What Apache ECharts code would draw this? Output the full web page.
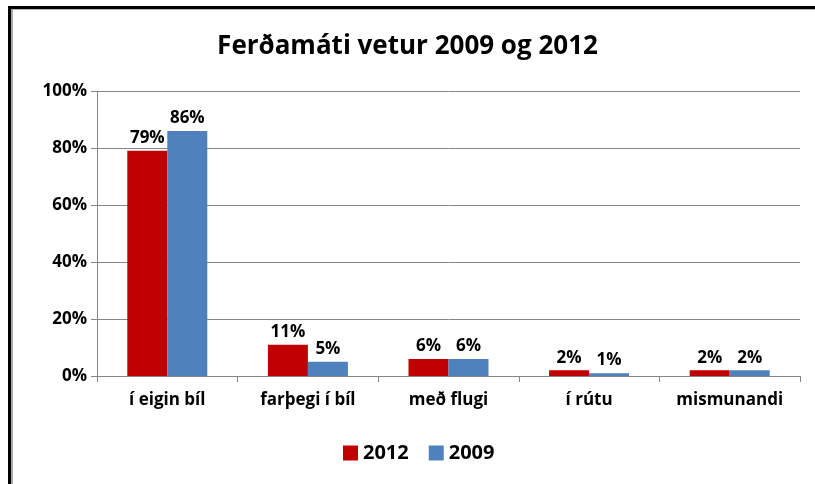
<!DOCTYPE html>
<html>
<head>
<meta charset="utf-8">
<script src="https://cdn.jsdelivr.net/npm/echarts@6/dist/echarts.min.js"></script>
<style>
html,body{margin:0;padding:0;background:#fff;}
#container{width:815px;height:484px;}
</style>
</head>
<body>
<div id="container"></div>
<script>
var categories = ['í eigin bíl', 'farþegi í bíl', 'með flugi', 'í rútu', 'mismunandi'];
var values2012 = [79, 11, 6, 2, 2];
var values2009 = [86, 5, 6, 1, 2];
var yTicks = [0, 20, 40, 60, 80, 100];

var font = '"Open Sans", "DejaVu Sans", sans-serif';
var myChart = echarts.init(document.getElementById('container'));

var labelStyle = {
    show: true,
    position: 'top',
    formatter: '{c}%',
    color: '#000',
    fontSize: 17,
    fontFamily: font,
    fontWeight: 'bold',
    distance: 4
};

option = {
    backgroundColor: '#fff',
    animation: false,
    title: {
        text: 'Ferðamáti vetur 2009 og 2012',
        left: 'center',
        top: 29,
        textStyle: {
            fontFamily: font,
            fontSize: 26,
            fontWeight: 'bold',
            color: '#000'
        }
    },
    legend: {
        bottom: 16,
        left: 338,
        itemWidth: 15,
        itemHeight: 15,
        itemGap: 20,
        icon: 'rect',
        textStyle: {fontFamily: font, fontSize: 20, color: '#000', fontWeight: 'bold'},
        data: ['2012', '2009']
    },
    grid: {
        left: 97,
        right: 15,
        top: 91,
        bottom: 108,
        containLabel: false
    },
    xAxis: {
        type: 'category',
        data: categories,
        axisLine: {lineStyle: {color: '#868686'}},
        axisTick: {show: true, length: 6, lineStyle: {color: '#868686'}},
        axisLabel: {fontFamily: font, fontSize: 17, fontWeight: 'bold', color: '#000', margin: 16}
    },
    yAxis: {
        type: 'value',
        min: yTicks[0],
        max: yTicks[yTicks.length - 1],
        interval: 20,
        axisLine: {show: true, lineStyle: {color: '#868686'}},
        axisTick: {show: true, length: 6, lineStyle: {color: '#868686'}},
        axisLabel: {formatter: '{value}%', fontFamily: font, fontSize: 17, fontWeight: 'bold', color: '#000', margin: 10},
        splitLine: {lineStyle: {color: '#868686'}}
    },
    series: [
        {
            name: '2012',
            type: 'bar',
            data: values2012,
            barWidth: 40,
            barGap: '0%',
            itemStyle: {color: '#C00000'},
            label: labelStyle
        },
        {
            name: '2009',
            type: 'bar',
            data: values2009,
            barWidth: 40,
            barGap: '0%',
            itemStyle: {color: '#4F81BD'},
            label: labelStyle
        }
    ],
    graphic: [
        {type: 'rect', shape: {x: 8, y: 6, width: 807, height: 3}, style: {fill: '#000'}},
        {type: 'rect', shape: {x: 8, y: 6, width: 3, height: 478}, style: {fill: '#000'}},
        {type: 'rect', shape: {x: 11, y: 9, width: 804, height: 1}, style: {fill: '#bbb'}},
        {type: 'rect', shape: {x: 11, y: 9, width: 2, height: 475}, style: {fill: '#aaa'}}
    ]
};
myChart.setOption(option);
</script>
</body>
</html>
